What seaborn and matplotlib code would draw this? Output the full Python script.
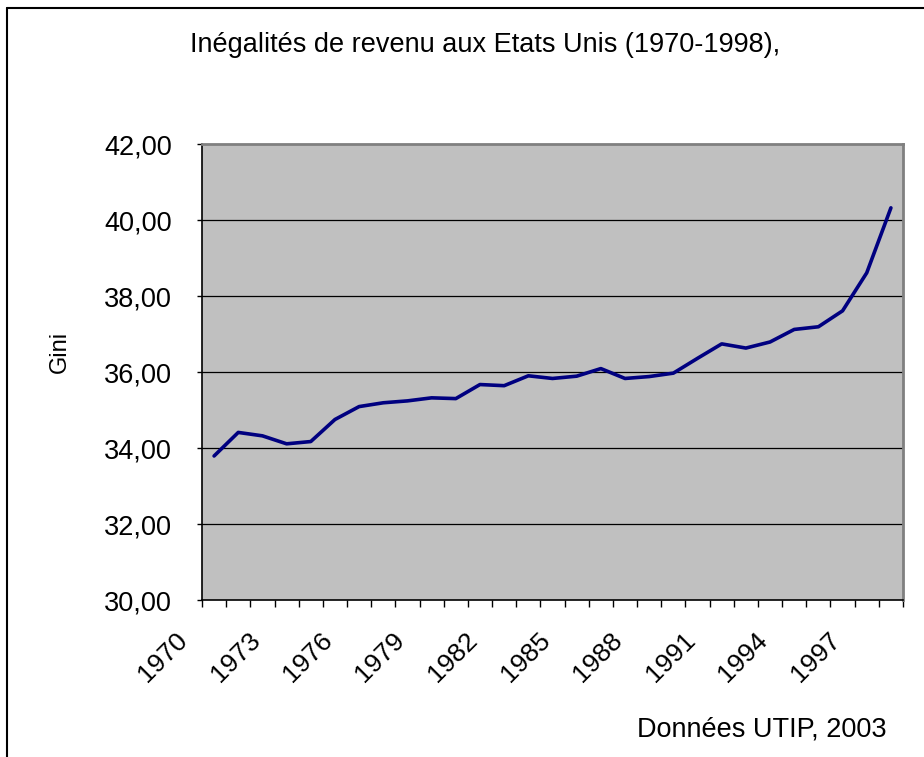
import numpy as np
import pandas as pd
import matplotlib
matplotlib.use("Agg")
import matplotlib.pyplot as plt
import matplotlib.transforms as mtrans
from matplotlib.lines import Line2D
import seaborn as sns

years = list(range(1970, 1999))
gini = [33.79, 34.41, 34.32, 34.11, 34.17, 34.75, 35.09, 35.19, 35.24, 35.32,
        35.30, 35.67, 35.64, 35.90, 35.83, 35.89, 36.09, 35.83, 35.88, 35.97,
        36.36, 36.74, 36.63, 36.79, 37.12, 37.19, 37.61, 38.61, 40.32]
label_years = list(range(1970, 1998, 3))
y_ticks = [30, 32, 34, 36, 38, 40, 42]

title = "Inégalités de revenu aux Etats Unis (1970-1998),"
source = "Données UTIP, 2003"

sns.set_style("white")
plt.rcParams['font.family'] = ['Liberation Sans', 'DejaVu Sans']
plt.rcParams['text.color'] = 'black'
plt.rcParams['axes.labelcolor'] = 'black'
plt.rcParams['xtick.color'] = 'black'
plt.rcParams['ytick.color'] = 'black'

df = pd.DataFrame({"annee": years, "gini": gini})

fig = plt.figure(figsize=(9.24, 7.57), dpi=100)
ax = fig.add_axes([202 / 924, 1 - 600 / 757, 701 / 924, 456 / 757])
ax.set_facecolor("#C0C0C0")

for v in y_ticks[1:-1]:
    ax.axhline(v, color="black", lw=0.9, zorder=1)

sns.lineplot(data=df, x="annee", y="gini", color="#000080", lw=2.6, ax=ax, zorder=3)

ax.set_xlim(1969.5, 1998.5)
ax.set_ylim(30, 42)
ax.set_yticks(y_ticks)
ax.set_yticklabels([f"{v:.2f}".replace(".", ",") for v in y_ticks], fontsize=19.5)
ax.set_xticks(label_years)
ax.set_xticklabels([str(y) for y in label_years], rotation=45, ha="right",
                   va="top", fontsize=19)
ax.set_xticks(np.arange(1969.5, 1999, 1.0), minor=True)
ax.tick_params(axis="x", which="major", length=0, pad=20)
ax.tick_params(axis="x", which="minor", length=5, width=1, color="black",
               direction="out", bottom=True)
ax.tick_params(axis="y", length=3.6, width=1, color="black", direction="out",
               left=True, pad=18)
offset = mtrans.ScaledTranslation(-0.22, 0, fig.dpi_scale_trans)
for lab in ax.get_xticklabels():
    lab.set_transform(lab.get_transform() + offset)

ax.set_xlabel("")
ax.set_ylabel("Gini", fontsize=17)
ax.yaxis.set_label_coords(-0.187, 0.544)

for s in ["top", "right"]:
    ax.spines[s].set_color("#808080")
    ax.spines[s].set_linewidth(2)
for s in ["left", "bottom"]:
    ax.spines[s].set_color("black")
    ax.spines[s].set_linewidth(1.2)
    ax.spines[s].set_visible(True)

fig.text(485 / 924, 1 - 45 / 757, title, fontsize=19.5, ha="center", va="center")
fig.text(887 / 924, 1 - 729 / 757, source, fontsize=19.5, ha="right", va="center")

fig.add_artist(Line2D([7 / 924, 1], [1 - 8 / 757, 1 - 8 / 757], color="black",
                      lw=1.5, transform=fig.transFigure))
fig.add_artist(Line2D([7 / 924, 7 / 924], [0, 1 - 8 / 757], color="black",
                      lw=1.5, transform=fig.transFigure))

fig.savefig("out.png", dpi=100, facecolor="white")
